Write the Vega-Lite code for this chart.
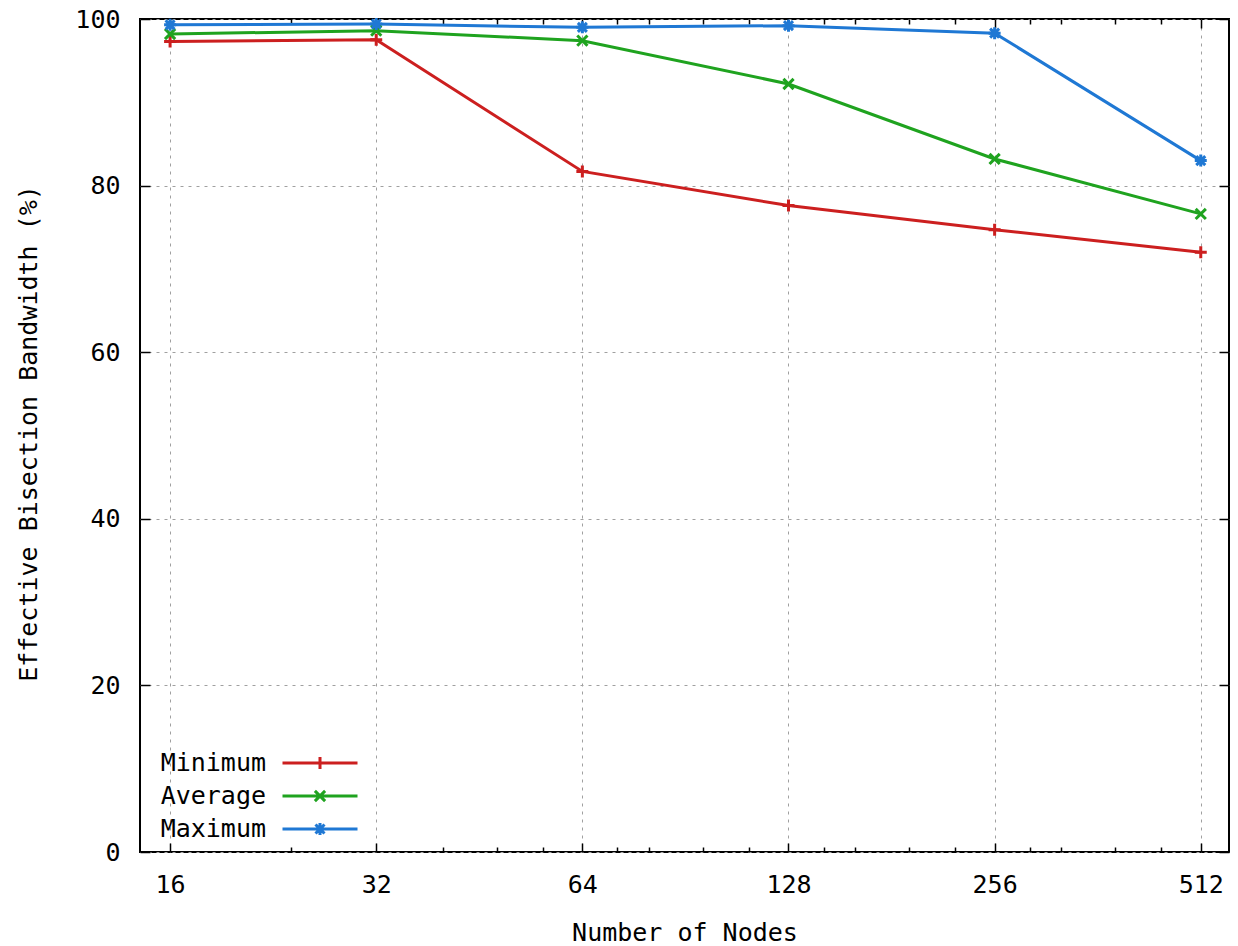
{
  "$schema": "https://vega.github.io/schema/vega-lite/v6.json",
  "width": 1089,
  "height": 833,
  "autosize": {"type": "none"},
  "padding": {"left": 140, "top": 19, "right": 9, "bottom": 94},
  "background": "#ffffff",
  "config": {
    "view": {"stroke": "#000000", "strokeWidth": 2},
    "axis": {
      "domain": false,
      "labelFont": "DejaVu Sans Mono",
      "labelFontSize": 25,
      "labelColor": "#000000",
      "titleFont": "DejaVu Sans Mono",
      "titleFontSize": 25,
      "titleFontWeight": "normal",
      "titleColor": "#000000",
      "tickColor": "#000000",
      "tickWidth": 1.5,
      "gridColor": "#a0a0a0",
      "gridDash": [3, 5],
      "gridWidth": 1,
      "labelOverlap": false,
      "labelFlush": false,
      "labelBound": false
    }
  },
  "data": {
    "values": [
      {"nodes": 16, "series": "Minimum", "value": 97.3},
      {"nodes": 32, "series": "Minimum", "value": 97.5},
      {"nodes": 64, "series": "Minimum", "value": 81.7},
      {"nodes": 128, "series": "Minimum", "value": 77.6},
      {"nodes": 256, "series": "Minimum", "value": 74.7},
      {"nodes": 512, "series": "Minimum", "value": 72.0},
      {"nodes": 16, "series": "Average", "value": 98.2},
      {"nodes": 32, "series": "Average", "value": 98.6},
      {"nodes": 64, "series": "Average", "value": 97.4},
      {"nodes": 128, "series": "Average", "value": 92.2},
      {"nodes": 256, "series": "Average", "value": 83.2},
      {"nodes": 512, "series": "Average", "value": 76.6},
      {"nodes": 16, "series": "Maximum", "value": 99.3},
      {"nodes": 32, "series": "Maximum", "value": 99.4},
      {"nodes": 64, "series": "Maximum", "value": 99.0},
      {"nodes": 128, "series": "Maximum", "value": 99.2},
      {"nodes": 256, "series": "Maximum", "value": 98.3},
      {"nodes": 512, "series": "Maximum", "value": 83.0}
    ]
  },
  "layer": [
    {
      "mark": {"type": "line", "strokeWidth": 3},
      "encoding": {
        "x": {
          "field": "nodes", "type": "quantitative",
          "scale": {"type": "log", "base": 2, "domain": [14.46, 563], "nice": false, "zero": false},
          "axis": {
            "orient": "bottom",
            "values": [16,24,32,40,48,56,64,72,80,96,112,128,144,160,192,224,256,288,320,384,448,512],
            "format": "d",
            "labelExpr": "indexof([16,32,64,128,256,512], datum.value) >= 0 ? datum.label : ''",
            "grid": true,
            "gridOpacity": {"condition": {"test": "indexof([16,32,64,128,256,512], datum.value) >= 0", "value": 1}, "value": 0},
            "tickSize": {"condition": {"test": "indexof([16,32,64,128,256,512], datum.value) >= 0", "value": -9}, "value": -5},
            "labelPadding": 29.5,
            "labelBaseline": "top",
            "title": "Number of Nodes",
            "titleBaseline": "top",
            "titleY": 68
          }
        },
        "y": {
          "field": "value", "type": "quantitative",
          "scale": {"domain": [0, 100], "nice": false},
          "axis": {
            "orient": "left",
            "values": [0, 20, 40, 60, 80, 100],
            "grid": true,
            "tickSize": -10,
            "labelPadding": 30,
            "title": "Effective Bisection Bandwidth (%)",
            "titleAngle": -90,
            "titleAlign": "center",
            "titleBaseline": "middle",
            "titleX": -112,
            "titleY": 414
          }
        },
        "color": {
          "field": "series", "type": "nominal",
          "scale": {"domain": ["Minimum", "Average", "Maximum"], "range": ["#cc1f1f", "#1fa31f", "#1f78d4"]},
          "legend": {
            "orient": "none",
            "legendX": 167.5,
            "legendY": 731.5,
            "title": null,
            "padding": 0,
            "symbolSize": 144,
            "symbolStrokeWidth": 3,
            "symbolType": "M-6.25,0L6.25,0",
            "rowPadding": 7,
            "labelAlign": "right",
            "labelBaseline": "middle",
            "labelOffset": -66.5,
            "labelFont": "DejaVu Sans Mono",
            "labelFontSize": 25,
            "labelColor": "#000000",
            "labelLimit": 300,
            "encode": {
              "symbols": {
                "update": {
                  "shape": {"signal": "datum.value === 'Minimum' ? 'M-6.25,0L6.25,0M0,-1L0,1' : datum.value === 'Average' ? 'M-6.25,0L6.25,0M-0.85,-0.85L0.85,0.85M-0.85,0.85L0.85,-0.85' : 'M-6.25,0L6.25,0M-1,0L1,0M0,-1L0,1M-0.75,-0.75L0.75,0.75M-0.75,0.75L0.75,-0.75'"},
                  "stroke": {"scale": "color", "field": "value"},
                  "strokeWidth": {"value": 3},
                  "fill": {"value": "transparent"},
                  "size": {"value": 144},
                  "opacity": {"value": 1}
                }
              }
            }
          }
        }
      }
    },
    {
      "mark": {"type": "point", "filled": false, "strokeWidth": 3, "size": 144, "opacity": 1},
      "encoding": {
        "x": {
          "field": "nodes", "type": "quantitative",
          "axis": {
            "orient": "top",
            "values": [16,24,32,40,48,56,64,72,80,96,112,128,144,160,192,224,256,288,320,384,448,512],
            "labels": false,
            "grid": false,
            "tickSize": {"condition": {"test": "indexof([16,32,64,128,256,512], datum.value) >= 0", "value": -9}, "value": -5},
            "title": null
          }
        },
        "y": {
          "field": "value", "type": "quantitative",
          "axis": {
            "orient": "right",
            "values": [0, 20, 40, 60, 80, 100],
            "labels": false,
            "grid": false,
            "tickSize": -10,
            "title": null
          }
        },
        "color": {"field": "series", "type": "nominal"},
        "shape": {
          "condition": [
            {"test": "datum.series === 'Minimum'", "value": "M-1,0L1,0M0,-1L0,1"},
            {"test": "datum.series === 'Average'", "value": "M-0.85,-0.85L0.85,0.85M-0.85,0.85L0.85,-0.85"}
          ],
          "value": "M-1,0L1,0M0,-1L0,1M-0.75,-0.75L0.75,0.75M-0.75,0.75L0.75,-0.75"
        }
      }
    }
  ],
  "resolve": {"axis": {"x": "independent", "y": "independent"}}
}
